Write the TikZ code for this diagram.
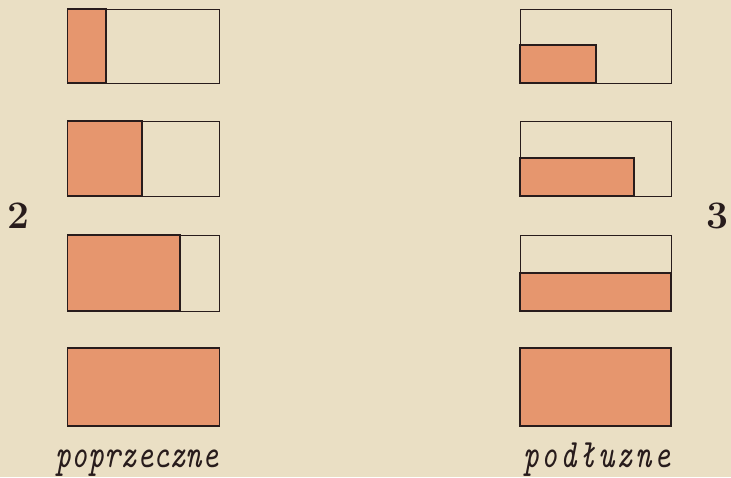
\documentclass[tikz,border=0pt]{standalone}
\usepackage{fontspec}
\usepackage{graphicx}
\definecolor{paper}{RGB}{234,223,196}
\definecolor{salmon}{RGB}{230,150,110}
\definecolor{ink}{RGB}{40,28,28}
\newcommand{\spaced}[2]{\def\sw{#1}\spacedloop#2\relax}
\def\spacedloop#1{\ifx#1\relax\else\makebox[\sw][c]{#1}\expandafter\spacedloop\fi}
\begin{document}
\begin{tikzpicture}[x=1pt,y=-1pt,
  outer/.style={draw=ink,line width=0.9pt},
  filled/.style={draw=ink,fill=salmon,line width=1.8pt},
  label/.style={inner sep=0pt,anchor=base,text=ink},
  numlab/.style={inner sep=0pt,anchor=base,text=ink,font=\fontsize{39}{39}\selectfont\bfseries}]
\fill[paper] (0,0) rectangle (731,477);
\useasboundingbox (0,0) rectangle (731,477);
% left column (poprzeczne)
\draw[outer] (67.5,9) rectangle (219.5,83);
\draw[filled] (67.5,9) rectangle (106,83);
\draw[outer] (67.5,121) rectangle (219.5,196);
\draw[filled] (67.5,121) rectangle (142,196);
\draw[outer] (67.5,235) rectangle (219.5,311);
\draw[filled] (67.5,235) rectangle (180,311);
\draw[filled] (67.5,348) rectangle (219.5,426);
% right column (podluzne)
\draw[outer] (520,9) rectangle (671,83);
\draw[filled] (520,45) rectangle (596,83);
\draw[outer] (520,121) rectangle (671,196);
\draw[filled] (520,158) rectangle (634,196);
\draw[outer] (520,235) rectangle (671,311);
\draw[filled] (520,273) rectangle (671,311);
\draw[filled] (520,348) rectangle (671,426);
% numbers
\node[numlab] (n2) at (18,228) {2};
\node[numlab] (n3) at (717,228) {3};
% captions
\node[label] (cap1) at (137,467) {\scalebox{1}[1.3]{\fontsize{31}{31}\selectfont\ttfamily\itshape \spaced{16.3pt}{poprzeczne}}};
\node[label] (cap2) at (597,467) {\scalebox{1}[1.3]{\fontsize{31}{31}\selectfont\ttfamily\itshape \spaced{18.75pt}{podłuzne}}};
\end{tikzpicture}
\end{document}
